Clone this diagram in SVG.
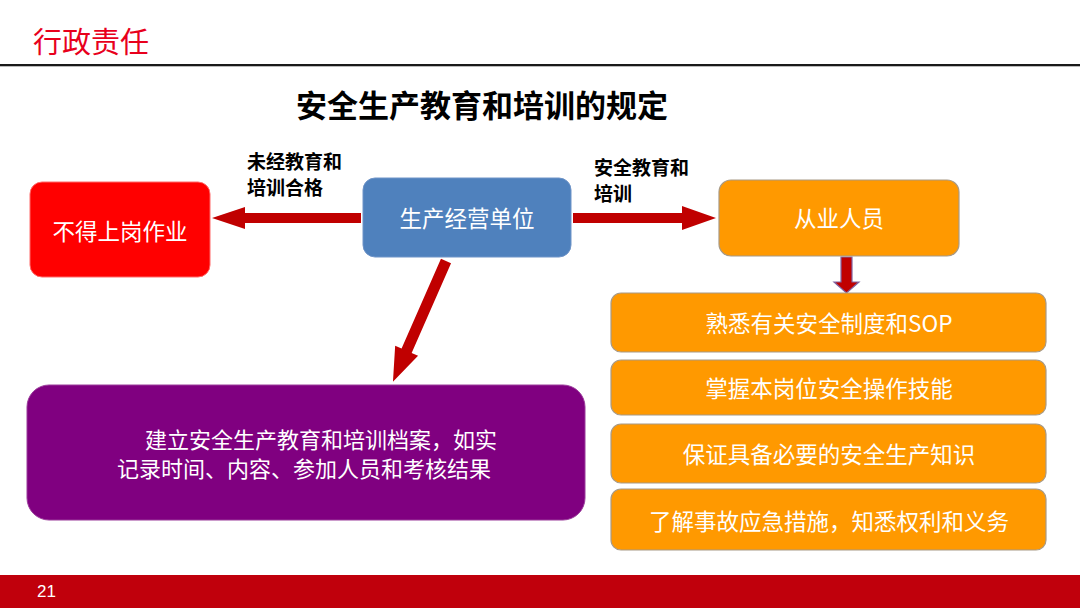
<svg xmlns="http://www.w3.org/2000/svg" width="1080" height="608" viewBox="0 0 1080 608">
<style>
.cjk{font-family:"Noto Sans CJK SC","Liberation Sans",sans-serif;}
.bt{fill:#ffffff;font-size:22.5px;text-anchor:middle;dominant-baseline:central;}
.lbl{fill:#000000;font-size:19px;font-weight:bold;dominant-baseline:central;}
.arr{fill:#c00000;}
.orange{fill:#ff9900;stroke:#a89a86;stroke-width:1.2;}
</style>
<rect x="0" y="0" width="1080" height="608" fill="#ffffff"/>
<g id="header">
<text class="cjk" x="33" y="40" font-size="29" fill="#e8001c" dominant-baseline="central">行政责任</text>
<line x1="0" y1="66" x2="1080" y2="66" stroke="#bbbbbb" stroke-width="2"/>
<line x1="0" y1="65" x2="1080" y2="65" stroke="#1a1a1a" stroke-width="2"/>
</g>
<g id="title">
<text class="cjk" x="482" y="103" font-size="31" font-weight="bold" fill="#000" text-anchor="middle" dominant-baseline="central">安全生产教育和培训的规定</text>
</g>
<g id="connectors">
<polygon class="arr" points="361,213 245,213 245,207 212,218 245,229 245,223 361,223"/>
<polygon class="arr" points="573,213 682,213 682,206 716,218 682,230 682,223 573,223"/>
<polygon class="arr" points="841,257 852,257 852,282 859,282 846.5,293 834,282 841,282" stroke="#8064a2" stroke-width="1.2"/>
<polygon class="arr" points="0,-5.5 98,-5.5 98,-12.5 132,0 98,12.5 98,5.5 0,5.5" transform="translate(446,261) rotate(113.7)"/>
<text class="cjk lbl" x="247" y="160">未经教育和</text>
<text class="cjk lbl" x="247" y="186">培训合格</text>
<text class="cjk lbl" x="594" y="166">安全教育和</text>
<text class="cjk lbl" x="594" y="192">培训</text>
</g>
<g id="node-forbid">
<rect x="30" y="182" width="180" height="95" rx="12" fill="#ff0000" stroke="#ff6a6a" stroke-width="1"/>
<text class="cjk bt" x="120" y="230">不得上岗作业</text>
</g>
<g id="node-unit">
<rect x="363" y="178" width="208" height="79" rx="12" fill="#4f81bd" stroke="#6f94c8" stroke-width="1"/>
<text class="cjk bt" x="467" y="217">生产经营单位</text>
</g>
<g id="node-staff">
<rect class="orange" x="719" y="180" width="240" height="76" rx="12"/>
<text class="cjk bt" x="839" y="217">从业人员</text>
</g>
<g id="node-archive">
<rect x="27" y="385" width="558" height="135" rx="22" fill="#800080" stroke="#9a3a9a" stroke-width="1"/>
<text class="cjk" x="145" y="438" font-size="22" fill="#fff" dominant-baseline="central">建立安全生产教育和培训档案，如实</text>
<text class="cjk" x="117" y="467" font-size="22" fill="#fff" dominant-baseline="central">记录时间、内容、参加人员和考核结果</text>
</g>
<g id="node-item1">
<rect class="orange" x="611" y="293" width="435" height="59" rx="10"/>
<text class="cjk bt" x="829" y="322">熟悉有关安全制度和SOP</text>
</g>
<g id="node-item2">
<rect class="orange" x="611" y="360" width="435" height="55" rx="10"/>
<text class="cjk bt" x="829" y="387">掌握本岗位安全操作技能</text>
</g>
<g id="node-item3">
<rect class="orange" x="611" y="424" width="435" height="59" rx="10"/>
<text class="cjk bt" x="829" y="453">保证具备必要的安全生产知识</text>
</g>
<g id="node-item4">
<rect class="orange" x="611" y="489" width="435" height="61" rx="10"/>
<text class="cjk bt" x="829" y="520">了解事故应急措施，知悉权利和义务</text>
</g>
<g id="footer">
<rect x="0" y="575" width="1080" height="33" fill="#c0000c"/>
<text x="37" y="591" font-family="Liberation Sans, sans-serif" font-size="17" fill="#fff" dominant-baseline="central">21</text>
</g>
</svg>
